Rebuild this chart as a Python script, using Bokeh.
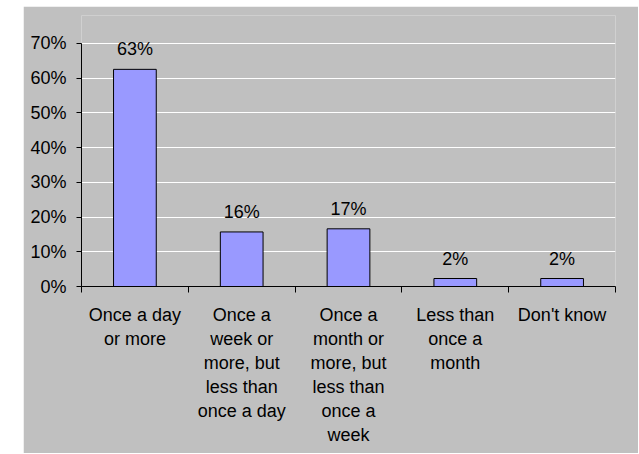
from bokeh.plotting import figure
from bokeh.models import Range1d, FixedTicker, NumeralTickFormatter, ColumnDataSource
from bokeh.core.properties import value
from bokeh.embed import file_html
from bokeh.resources import INLINE

categories = ["Once a day\nor more",
              "Once a\nweek or\nmore, but\nless than\nonce a day",
              "Once a\nmonth or\nmore, but\nless than\nonce a\nweek",
              "Less than\nonce a\nmonth",
              "Don't know"]
shares = [0.625, 0.157, 0.166, 0.023, 0.023]
share_labels = ["63%", "16%", "17%", "2%", "2%"]
y_ticks = [0, 0.1, 0.2, 0.3, 0.4, 0.5, 0.6, 0.7]

FONT = "Liberation Sans"
GRAY = "#C0C0C0"

n = len(categories)
centers = [i + 0.5 for i in range(n)]
bounds_ticks = [float(i) for i in range(n + 1)]

src = ColumnDataSource(dict(x=centers, top=shares, label=share_labels))

p = figure(width=615, height=447, frame_width=534, frame_height=271,
           min_border_left=58, min_border_right=23, min_border_top=9, min_border_bottom=167,
           x_range=Range1d(0, n), y_range=Range1d(0, 0.78),
           output_backend="svg", toolbar_location=None,
           margin=(6, 0, 0, 23))
p.border_fill_color = GRAY
p.background_fill_color = GRAY
p.outline_line_color = None

p.vbar(x="x", top="top", width=0.4, source=src,
       fill_color="#9999FF", line_color="black", line_width=1)
p.text(x="x", y="top", text="label", source=src, y_offset=-20,
       text_align="center", text_baseline="alphabetic",
       text_font=value(FONT), text_font_size="18px", text_color="black")

# y axis
ya = p.yaxis[0]
ya.ticker = FixedTicker(ticks=y_ticks)
ya.formatter = NumeralTickFormatter(format="0%")
ya.bounds = (0, 0.7)
ya.axis_line_color = "black"
ya.major_tick_in = 0
ya.major_tick_out = 5
ya.minor_tick_line_color = None
ya.major_label_standoff = 10
ya.major_label_text_font = FONT
ya.major_label_text_font_size = "18px"
ya.major_label_text_color = "black"

p.ygrid.ticker = FixedTicker(ticks=y_ticks)
p.ygrid.grid_line_color = "white"
p.ygrid.grid_line_width = 1
p.xgrid.visible = False

# x axis
xa = p.xaxis[0]
xa.ticker = FixedTicker(ticks=centers, minor_ticks=bounds_ticks)
xa.major_label_overrides = {c: lab for c, lab in zip(centers, categories)}
xa.axis_line_color = "black"
xa.major_tick_line_color = None
xa.major_tick_in = 0
xa.major_tick_out = 0
xa.minor_tick_in = 0
xa.minor_tick_out = 6
xa.minor_tick_line_color = "black"
xa.major_label_standoff = 12
xa.major_label_text_font = FONT
xa.major_label_text_font_size = "18px"
xa.major_label_text_color = "black"
xa.major_label_text_line_height = 1.2
xa.major_label_text_align = "center"

open("out.html", "w").write(file_html(p, INLINE))
